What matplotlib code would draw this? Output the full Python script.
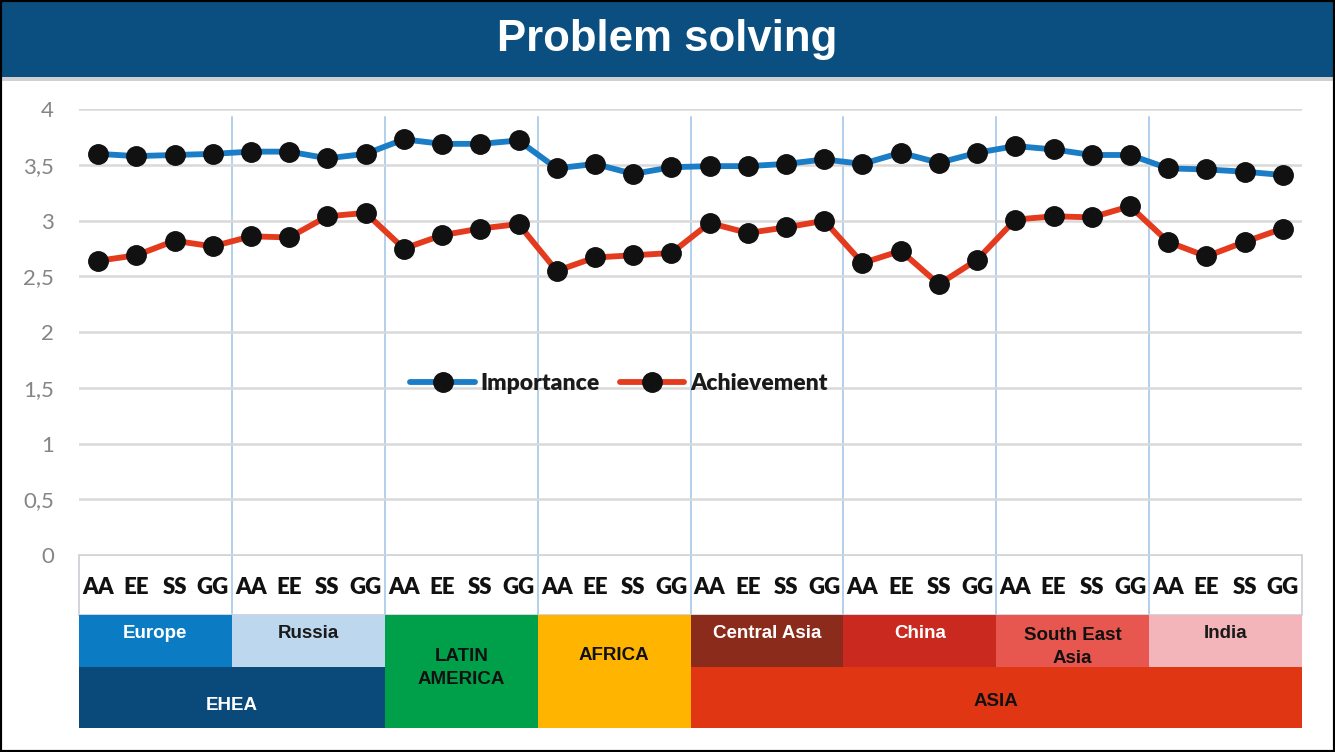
import matplotlib
matplotlib.use("Agg")
import matplotlib.pyplot as plt
from matplotlib.patches import Rectangle
import numpy as np

# ---------------- data ----------------
categories = ["AA", "EE", "SS", "GG"]
regions = ["Europe", "Russia", "LATIN\nAMERICA", "AFRICA",
           "Central Asia", "China", "South East\nAsia", "India"]
importance = [3.60, 3.58, 3.59, 3.60, 3.62, 3.62, 3.56, 3.60,
              3.73, 3.69, 3.69, 3.72, 3.47, 3.51, 3.42, 3.48,
              3.49, 3.49, 3.51, 3.55, 3.51, 3.61, 3.52, 3.61,
              3.67, 3.64, 3.59, 3.59, 3.47, 3.46, 3.44, 3.41]
achievement = [2.64, 2.69, 2.82, 2.77, 2.86, 2.85, 3.04, 3.07,
               2.75, 2.87, 2.93, 2.97, 2.55, 2.67, 2.69, 2.71,
               2.98, 2.89, 2.94, 3.00, 2.62, 2.73, 2.43, 2.65,
               3.01, 3.04, 3.03, 3.13, 2.81, 2.68, 2.81, 2.93]
y_ticks = [0, 0.5, 1, 1.5, 2, 2.5, 3, 3.5, 4]
y_tick_labels = ["0", "0,5", "1", "1,5", "2", "2,5", "3", "3,5", "4"]
super_regions = ["EHEA", "ASIA"]

# ---------------- styles ----------------
W, H = 1335, 752
banner_col = "#0A4F80"
blue = "#1A7DC6"
red = "#E43A1E"
region_colors = ["#0B7CC4", "#BDD7EE", "#00A04A", "#FFB400",
                 "#8B2B1B", "#C9291F", "#E7574F", "#F3B5B9"]
region_text_colors = ["white", "#1a1a1a", "#111111", "#111111",
                      "white", "white", "#111111", "#1a1a1a"]
super_colors = ["#0A4A7A", "#E03613"]
super_text_colors = ["white", "#111111"]

fig = plt.figure(figsize=(W / 100, H / 100), dpi=100)
fig.patch.set_facecolor("white")


def fx(px):
    return px / W


def fy(py):
    return 1 - py / H


# banner
fig.patches.append(Rectangle((0, fy(77)), 1, 77 / H, transform=fig.transFigure,
                             facecolor=banner_col, edgecolor="none", zorder=0))
fig.patches.append(Rectangle((0, fy(81)), 1, 4 / H, transform=fig.transFigure,
                             facecolor="#D0D0D0", edgecolor="none", zorder=0))
fig.text(0.5, fy(39), "Problem solving", color="white", fontsize=31.5,
         fontweight="bold", family="Liberation Sans", ha="center", va="center")

# main axes
ax_top, ax_bot = 109.3, 555
ax = fig.add_axes([fx(79), fy(ax_bot), fx(1302) - fx(79), (ax_bot - ax_top) / H])
n = len(importance)
x = np.arange(n)
ax.plot(x, importance, color=blue, lw=4.2, marker="o", ms=14, mfc="#111111",
        mec="#111111", label="Importance", zorder=4, solid_capstyle="round")
ax.plot(x, achievement, color=red, lw=4.2, marker="o", ms=14, mfc="#111111",
        mec="#111111", label="Achievement", zorder=4, solid_capstyle="round")
ax.set_xlim(-0.5, n - 0.5)
ax.set_ylim(0, 4)
ax.set_yticks(y_ticks)
ax.set_yticklabels(y_tick_labels, color="#858585", fontsize=16, family="Lato")
ax.set_xticks(x)
ax.set_xticklabels(categories * len(regions), fontsize=16, family="Lato",
                   fontweight="heavy", color="#111111")
ax.tick_params(axis="y", length=0, pad=18)
ax.tick_params(axis="x", length=0, pad=16)
ax.grid(axis="y", color="#D9D9D9", lw=1.8, zorder=0)
for s in ax.spines.values():
    s.set_visible(False)

ax_h = ax_bot - ax_top
# group separators
for k in range(1, len(regions)):
    ax.axvline(4 * k - 0.5, ymin=-(615 - ax_bot) / ax_h, ymax=(ax_bot - 117) / ax_h,
               color="#9DC3E6", lw=1.1, clip_on=False, zorder=1)
# label box
ax.add_patch(Rectangle((0, -(615 - ax_bot) / ax_h), 1, (615 - ax_bot) / ax_h,
                       transform=ax.transAxes, fill=False, edgecolor="#C9CED6",
                       lw=1.2, clip_on=False, zorder=1))

leg = ax.legend(loc="center", bbox_to_anchor=((619 - 79) / 1223, (ax_bot - 384) / ax_h),
                ncol=2, frameon=False, handlelength=2.8, handletextpad=0.25,
                columnspacing=0.9, prop={"family": "Lato", "weight": "heavy", "size": 16.5})
for t in leg.get_texts():
    t.set_color("#1a1a1a")

# bottom region boxes
bx = fig.add_axes([fx(79), fy(728), fx(1302) - fx(79), (728 - 615) / H])
bx.set_xlim(-0.5, n - 0.5)
bx.set_ylim(728, 615)
bx.axis("off")
split = 667
full_height = {"LATIN\nAMERICA", "AFRICA"}
for g, (name, col, tc) in enumerate(zip(regions, region_colors, region_text_colors)):
    x0 = 4 * g - 0.5
    y1 = 728 if name in full_height else split
    bx.add_patch(Rectangle((x0, 615), 4, y1 - 615, facecolor=col, edgecolor="none"))
    if name == "LATIN\nAMERICA":
        ty = 668
    elif name == "AFRICA":
        ty = 656
    elif "\n" in name:
        ty = 647
    else:
        ty = 633
    bx.text(x0 + 2, ty, name, ha="center", va="center", color=tc, fontsize=13.5,
            fontweight="bold", family="Liberation Sans", linespacing=1.45)
# super regions
super_spans = [(0, 2), (4, 8)]
super_ty = [706, 702]
for (g0, g1), name, col, tc, ty in zip(super_spans, super_regions, super_colors,
                                       super_text_colors, super_ty):
    x0 = 4 * g0 - 0.5
    bx.add_patch(Rectangle((x0, split), 4 * (g1 - g0), 728 - split,
                           facecolor=col, edgecolor="none"))
    bx.text(x0 + 2 * (g1 - g0), ty, name, ha="center", va="center", color=tc,
            fontsize=13.5, fontweight="bold", family="Liberation Sans")

# outer frame
fig.patches.append(Rectangle((0, 0), 1, 1, transform=fig.transFigure, fill=False,
                             edgecolor="black", lw=3, zorder=10))

fig.savefig("out.png", dpi=100)
